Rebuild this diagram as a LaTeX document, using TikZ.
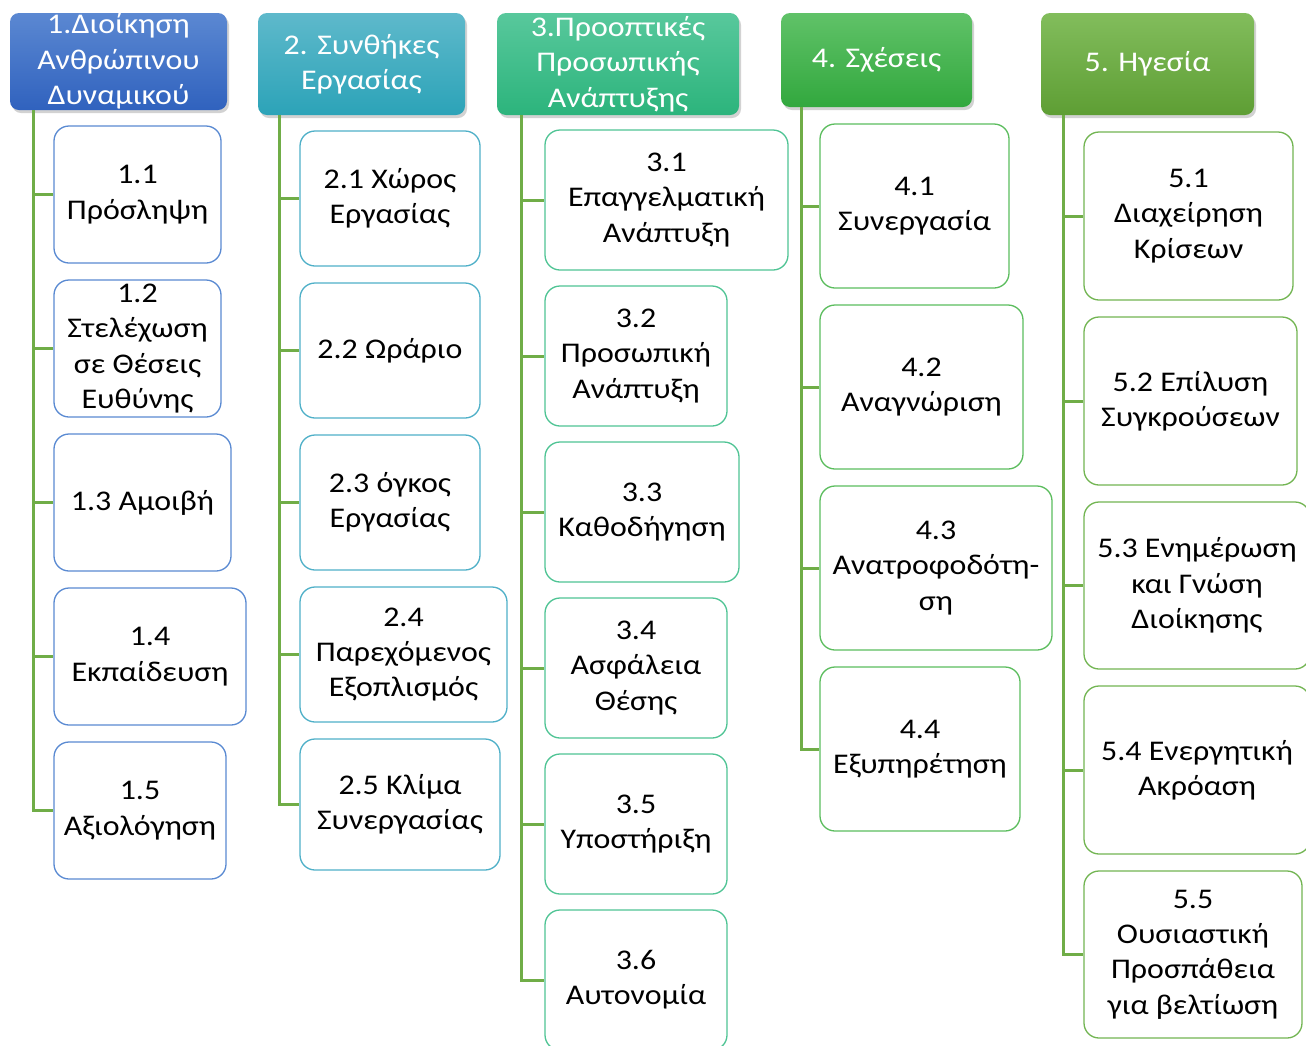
\documentclass[tikz,border=0pt]{standalone}
\usepackage{fontspec}
\setmainfont{Carlito}[FakeStretch=1.12]
\usetikzlibrary{shadows}
\definecolor{cA}{HTML}{5A8AD2}
\definecolor{cB}{HTML}{4FB0C8}
\definecolor{cC}{HTML}{4FC494}
\definecolor{cD}{HTML}{5CBD5E}
\definecolor{cE}{HTML}{72B552}
\definecolor{conncol}{HTML}{70AD47}
\definecolor{hAt}{HTML}{5B88D2}
\definecolor{hAb}{HTML}{3062BE}
\definecolor{hBt}{HTML}{5EB9CB}
\definecolor{hBb}{HTML}{2CA3B8}
\definecolor{hCt}{HTML}{58C89C}
\definecolor{hCb}{HTML}{2CB47C}
\definecolor{hDt}{HTML}{60C268}
\definecolor{hDb}{HTML}{32A83E}
\definecolor{hEt}{HTML}{82BD5C}
\definecolor{hEb}{HTML}{5E9E34}
\tikzset{
  txt/.style={font=\fontsize{28.5}{35.3}\selectfont, align=center, inner sep=0pt},
  head/.style={txt, rounded corners=9pt, text=white,
     drop shadow={opacity=0.35, shadow xshift=2pt, shadow yshift=-3pt}},
  boxbase/.style={txt, rounded corners=15pt, fill=white, line width=1.3pt},
  boxA/.style={boxbase, draw=cA},
  boxB/.style={boxbase, draw=cB},
  boxC/.style={boxbase, draw=cC},
  boxD/.style={boxbase, draw=cD},
  boxE/.style={boxbase, draw=cE},
  conn/.style={draw=conncol, line width=3pt},
}
\begin{document}
\begin{tikzpicture}[x=1pt,y=-1pt]
\useasboundingbox (0,0) rectangle (1306,1045);
\fill[white] (0,0) rectangle (1306,1045);
\clip (0,0) rectangle (1306,1045);
% headers
\node[head, top color=hAt, bottom color=hAb, minimum width=217pt, minimum height=97pt] (h1) at (118.5,61.5) {1.Διοίκηση\\Ανθρώπινου\\Δυναμικού};
\node[head, top color=hBt, bottom color=hBb, minimum width=207pt, minimum height=102pt] (h2) at (361.5,64) {2. Συνθήκες\\Εργασίας};
\node[head, top color=hCt, bottom color=hCb, minimum width=242pt, minimum height=102pt] (h3) at (618,64) {3.Προοπτικές\\Προσωπικής\\Ανάπτυξης};
\node[head, top color=hDt, bottom color=hDb, minimum width=191pt, minimum height=94pt] (h4) at (876.5,60) {4. Σχέσεις};
\node[head, top color=hEt, bottom color=hEb, minimum width=213pt, minimum height=102pt] (h5) at (1147.5,64) {5. Ηγεσία};
% column 1
\node[boxA, minimum width=167pt, minimum height=137pt] (n11) at (137.5,194.5) {1.1\\Πρόσληψη};
\node[boxA, minimum width=167pt, minimum height=137pt] (n12) at (137.5,348.5) {1.2\\Στελέχωση\\σε Θέσεις\\Ευθύνης};
\node[boxA, minimum width=177pt, minimum height=137pt] (n13) at (142.5,502.5) {1.3 Αμοιβή};
\node[boxA, minimum width=192pt, minimum height=137pt] (n14) at (150,656.5) {1.4\\Εκπαίδευση};
\node[boxA, minimum width=172pt, minimum height=137pt] (n15) at (140,810.5) {1.5\\Αξιολόγηση};
% column 2
\node[boxB, minimum width=180pt, minimum height=135pt] (n21) at (390,198.5) {2.1 Χώρος\\Εργασίας};
\node[boxB, minimum width=180pt, minimum height=135pt] (n22) at (390,350.5) {2.2 Ωράριο};
\node[boxB, minimum width=180pt, minimum height=135pt] (n23) at (390,502.5) {2.3 όγκος\\Εργασίας};
\node[boxB, minimum width=207pt, minimum height=135pt] (n24) at (403.5,654.5) {2.4\\Παρεχόμενος\\Εξοπλισμός};
\node[boxB, minimum width=200pt, minimum height=131pt] (n25) at (400,804.5) {2.5 Κλίμα\\Συνεργασίας};
% column 3
\node[boxC, minimum width=243pt, minimum height=140pt] (n31) at (666.5,200) {3.1\\Επαγγελματική\\Ανάπτυξη};
\node[boxC, minimum width=182pt, minimum height=140pt] (n32) at (636,356) {3.2\\Προσωπική\\Ανάπτυξη};
\node[boxC, minimum width=194pt, minimum height=140pt] (n33) at (642,512) {3.3\\Καθοδήγηση};
\node[boxC, minimum width=182pt, minimum height=140pt] (n34) at (636,668) {3.4\\Ασφάλεια\\Θέσης};
\node[boxC, minimum width=182pt, minimum height=140pt] (n35) at (636,824) {3.5\\Υποστήριξη};
\node[boxC, minimum width=182pt, minimum height=140pt] (n36) at (636,980) {3.6\\Αυτονομία};
% column 4
\node[boxD, minimum width=189pt, minimum height=164pt] (n41) at (914.5,206) {4.1\\Συνεργασία};
\node[boxD, minimum width=203pt, minimum height=164pt] (n42) at (921.5,387) {4.2\\Αναγνώριση};
\node[boxD, minimum width=232pt, minimum height=164pt] (n43) at (936,568) {4.3\\Ανατροφοδότη-\\ση};
\node[boxD, minimum width=200pt, minimum height=164pt] (n44) at (920,749) {4.4\\Εξυπηρέτηση};
% column 5
\node[boxE, minimum width=209pt, minimum height=168pt] (n51) at (1188.5,216) {5.1\\Διαχείρηση\\Κρίσεων};
\node[boxE, minimum width=213pt, minimum height=168pt] (n52) at (1190.5,401) {5.2 Επίλυση\\Συγκρούσεων};
\node[boxE, minimum width=226pt, minimum height=167pt] (n53) at (1197,585.5) {5.3 Ενημέρωση\\και Γνώση\\Διοίκησης};
\node[boxE, minimum width=226pt, minimum height=168pt] (n54) at (1197,770) {5.4 Ενεργητική\\Ακρόαση};
\node[boxE, minimum width=218pt, minimum height=167pt] (n55) at (1193,954.5) {5.5\\Ουσιαστική\\Προσπάθεια\\για βελτίωση};
% trunks
\coordinate (t1) at (33,110);
\coordinate (t2) at (279,115);
\coordinate (t3) at (521,115);
\coordinate (t4) at (801,107);
\coordinate (t5) at (1063,115);
\foreach \t/\n in {t1/n11,t1/n12,t1/n13,t1/n14,t1/n15,
                   t2/n21,t2/n22,t2/n23,t2/n24,t2/n25,
                   t3/n31,t3/n32,t3/n33,t3/n34,t3/n35,t3/n36,
                   t4/n41,t4/n42,t4/n43,t4/n44,
                   t5/n51,t5/n52,t5/n53,t5/n54,t5/n55}
  \draw[conn] (\t) |- (\n.west);
\end{tikzpicture}
\end{document}
